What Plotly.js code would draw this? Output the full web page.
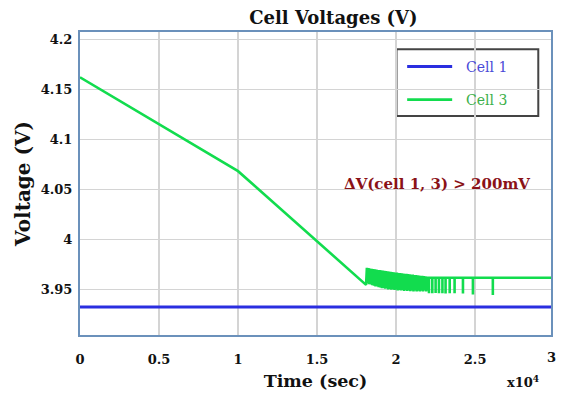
<!DOCTYPE html>
<html>
<head>
<meta charset="utf-8">
<script src="https://cdn.plot.ly/plotly-3.0.1.min.js"></script>
<style>
  html, body { margin: 0; padding: 0; background: #fff; }
  #chart { width: 566px; height: 397px; }
</style>
</head>
<body>
<div id="chart"></div>
<script>
// Time axis (seconds) and cell voltages (V)

// Cell 1: flat voltage over the whole run
const cell1Time = [0, 29800];
const cell1Volt = [3.9323, 3.9323];

// Cell 3: linear discharge segments
const cell3RampTime = [0, 10000, 18100];
const cell3RampVolt = [4.1622, 4.0683, 3.9545];

// Cell 3: oscillating section after the ramp
const cell3OscTime = [
  18150, 18200, 18250, 18300, 18350, 18400, 18450, 18500, 18550, 18600,
  18650, 18700, 18750, 18800, 18850, 18900, 18950, 19000, 19050, 19100,
  19150, 19200, 19250, 19300, 19350, 19400, 19450, 19500, 19550, 19600,
  19650, 19700, 19750, 19800, 19850, 19900, 19950, 20000, 20050, 20100,
  20150, 20200, 20250, 20300, 20350, 20400, 20450, 20500, 20550, 20600,
  20650, 20700, 20750, 20800, 20850, 20900, 20950, 21000, 21050, 21100,
  21150, 21200, 21250, 21300, 21350, 21400, 21450, 21500, 21550, 21600,
  21650, 21700, 21750, 21800, 21850, 21900, 21950, 22000
];
const cell3OscVolt = [
  3.9716, 3.9560, 3.9712, 3.9552, 3.9709, 3.9548, 3.9705, 3.9541, 3.9703, 3.9537,
  3.9700, 3.9530, 3.9698, 3.9528, 3.9694, 3.9521, 3.9693, 3.9519, 3.9690, 3.9512,
  3.9687, 3.9515, 3.9685, 3.9506, 3.9682, 3.9509, 3.9680, 3.9500, 3.9678, 3.9504,
  3.9675, 3.9497, 3.9673, 3.9501, 3.9671, 3.9494, 3.9668, 3.9498, 3.9667, 3.9490,
  3.9664, 3.9495, 3.9663, 3.9488, 3.9660, 3.9493, 3.9659, 3.9485, 3.9656, 3.9491,
  3.9655, 3.9484, 3.9652, 3.9490, 3.9651, 3.9482, 3.9648, 3.9489, 3.9647, 3.9480,
  3.9644, 3.9488, 3.9643, 3.9479, 3.9640, 3.9487, 3.9639, 3.9478, 3.9636, 3.9486,
  3.9635, 3.9478, 3.9632, 3.9488, 3.9631, 3.9480, 3.9628, 3.9490
];

// Cell 3: settled level with occasional short dips
const cell3SettledVolt = 3.9616;
const cell3DipTime = [22080, 22290, 22500, 22710, 22930, 23130, 23390, 23700, 24230, 24860, 26120];
const cell3DipVolt = [3.9462, 3.9460, 3.9463, 3.9461, 3.9460, 3.9458, 3.9462, 3.9460, 3.9458, 3.9449, 3.9443];
const cell3EndTime = 29800;

// Axis ticks
const xTickVals = [0, 5000, 10000, 15000, 20000, 25000];
const xTickText = ['0', '0.5', '1', '1.5', '2', '2.5'];
const yTickVals = [3.95, 4.0, 4.05, 4.1, 4.15, 4.2];
const yTickText = ['3.95', '4', '4.05', '4.1', '4.15', '4.2'];

// Assemble the full Cell 3 trace: ramp, oscillation, then dips on the settled level
const cell3Time = [].concat(cell3RampTime, cell3OscTime);
const cell3Volt = [].concat(cell3RampVolt, cell3OscVolt);
cell3DipTime.forEach((t, i) => {
  cell3Time.push(t, t, t);
  cell3Volt.push(cell3SettledVolt, cell3DipVolt[i], cell3SettledVolt);
});
cell3Time.push(cell3EndTime);
cell3Volt.push(cell3SettledVolt);

const SERIF = '"DejaVu Serif", "Liberation Serif", serif';
const BLUE = '#2a2ee0';
const GREEN = '#12dc4e';

const traces = [
  {
    x: cell1Time, y: cell1Volt, type: 'scatter', mode: 'lines',
    name: '\u00a0\u00a0<span style="color:#4a4ad8">Cell 1</span>',
    line: { color: BLUE, width: 3 },
    legendgroup: 'c1'
  },
  {
    x: cell3Time, y: cell3Volt, type: 'scatter', mode: 'lines',
    name: '\u00a0\u00a0<span style="color:#3cb04a">Cell 3</span>',
    line: { color: GREEN, width: 2.6 },
    legendgroup: 'c3'
  }
];

const layout = {
  width: 566, height: 397,
  margin: { l: 80, r: 15, t: 32, b: 62 },
  paper_bgcolor: '#ffffff',
  plot_bgcolor: '#ffffff',
  font: { family: SERIF, color: '#111' },
  title: {
    text: '<b>Cell Voltages (V)</b>',
    font: { family: SERIF, size: 18, color: '#111' },
    x: 0.538, xref: 'paper', xanchor: 'center',
    y: 0.955, yref: 'container', yanchor: 'middle'
  },
  xaxis: {
    range: [0, 29800],
    tickvals: xTickVals, ticktext: xTickText,
    tickfont: { family: SERIF, size: 13, color: '#111', weight: 'bold' },
    ticks: '', ticklabelstandoff: 11,
    showgrid: true, gridcolor: '#d4d4d4', gridwidth: 1.5,
    zeroline: false,
    showline: true, mirror: true, linecolor: '#6b91bb', linewidth: 2,
    title: { text: '<b>Time (sec)</b>', font: { family: SERIF, size: 17.5, color: '#111' }, standoff: 9 }
  },
  yaxis: {
    range: [3.9043, 4.2076],
    tickvals: yTickVals, ticktext: yTickText,
    tickfont: { family: SERIF, size: 13, color: '#111', weight: 'bold' },
    ticks: '', ticklabelstandoff: 3,
    showgrid: true, gridcolor: '#d4d4d4', gridwidth: 1.5,
    zeroline: false,
    showline: true, mirror: true, linecolor: '#6b91bb', linewidth: 2,
    title: { text: '<b>Voltage (V)</b>', font: { family: SERIF, size: 20, color: '#111' }, standoff: 5 }
  },
  showlegend: true,
  legend: {
    x: 0.684, y: 0.938, xanchor: 'left', yanchor: 'top',
    bgcolor: 'rgba(0,0,0,0)', borderwidth: 0,
    font: { family: SERIF, size: 14 },
    traceorder: 'grouped', tracegroupgap: 12,
    itemwidth: 45
  },
  shapes: [
    {
      type: 'rect', xref: 'paper', yref: 'paper',
      x0: 0.672, x1: 0.973, y0: 0.723, y1: 0.943,
      line: { color: '#444', width: 2 }, fillcolor: '#ffffff', layer: 'below'
    }
  ],
  annotations: [
    {
      text: '<b>ΔV(cell 1, 3) > 200mV</b>',
      xref: 'paper', yref: 'paper', x: 0.757, y: 0.5, yanchor: 'middle', xanchor: 'center',
      showarrow: false, font: { family: SERIF, size: 15, color: '#8a1217' }
    },
    {
      text: '<b>3</b>',
      xref: 'paper', yref: 'paper', x: 1, y: 0, yanchor: 'top', xanchor: 'center', yshift: -13,
      showarrow: false, font: { family: SERIF, size: 13, color: '#111' }
    },
    {
      text: '<b>x10<sup>4</sup></b>',
      xref: 'paper', yref: 'paper', x: 0.941, y: 0, yanchor: 'middle', xanchor: 'center', yshift: -46,
      showarrow: false, font: { family: SERIF, size: 13, color: '#111' }
    }
  ]
};

Plotly.newPlot('chart', traces, layout, { displayModeBar: false, staticPlot: true });
</script>
</body>
</html>
